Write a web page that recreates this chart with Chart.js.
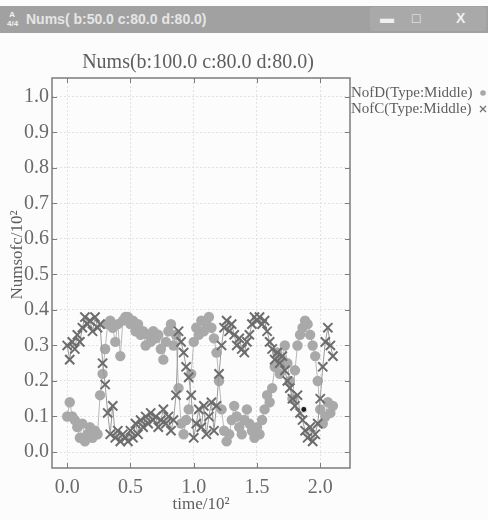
<!DOCTYPE html>
<html>
<head>
<meta charset="utf-8">
<script src="https://cdn.jsdelivr.net/npm/chart.js@4.4.1/dist/chart.umd.min.js"></script>
<style>
  html, body { margin: 0; padding: 0; background: #fff; }
  #wrap { position: relative; width: 488px; height: 520px; overflow: hidden; background: #fcfcfc; }
  #c { position: absolute; left: 0; top: 0; }
  #bar { position: absolute; left: 0; top: 6px; width: 488px; height: 27px; background: #a1a1a1;
         font-family: "Liberation Sans", Arial, sans-serif; font-weight: bold; color: #e6e6e6; z-index: 2; }
  #icon { position: absolute; left: 7px; top: 4px; width: 13px; height: 18px; font-size: 8px; line-height: 9px; color: #f2f2f2; }
  #ttl { position: absolute; left: 26px; top: 5px; font-size: 14px; }
  #btns { position: absolute; left: 370px; top: 1px; width: 116px; height: 24px; background: #a9a9a9; border-radius: 3px; }
  #btns span { position: absolute; top: 3px; font-size: 14px; color: #f0f0f0; }
</style>
</head>
<body>
<div id="wrap">
  <canvas id="c" width="488" height="520"></canvas>
  <div id="bar">
    <span id="icon">&nbsp;A<br>4/4</span>
    <span id="ttl">Nums( b:50.0 c:80.0 d:80.0)</span>
    <span id="btns"><span style="left:10px">&#9644;</span><span style="left:42px">&#9633;</span><span style="left:86px">X</span></span>
  </div>
</div>
<script>
// time steps (plotted as time/10^2)
const times = [0, 2, 4, 6, 8, 10, 12, 14, 16, 18, 20, 22, 24, 26, 28, 30, 32, 34, 36, 38,
  40, 42, 44, 46, 48, 50, 52, 54, 56, 58, 60, 62, 64, 66, 68, 70, 72, 74, 76, 78,
  80, 82, 84, 86, 88, 90, 92, 94, 96, 98, 100, 102, 104, 106, 108, 110, 112, 114, 116, 118,
  120, 122, 124, 126, 128, 130, 132, 134, 136, 138, 140, 142, 144, 146, 148, 150, 152, 154, 156, 158,
  160, 162, 164, 166, 168, 170, 172, 174, 176, 178, 180, 182, 184, 186, 188, 190, 192, 194, 196, 198,
  200, 202, 204, 206, 208, 210];

// NofD (circles), Numsofc/10^2
const nofD = [0.10, 0.14, 0.10, 0.09, 0.07, 0.04, 0.08, 0.03, 0.05, 0.07, 0.04, 0.06, 0.05, 0.16, 0.22, 0.29, 0.36, 0.37, 0.35, 0.31,
  0.36, 0.27, 0.37, 0.38, 0.38, 0.36, 0.37, 0.34, 0.36, 0.33, 0.34, 0.30, 0.33, 0.31, 0.34, 0.32, 0.33, 0.29, 0.26, 0.31,
  0.34, 0.36, 0.30, 0.33, 0.18, 0.08, 0.05, 0.09, 0.12, 0.22, 0.31, 0.35, 0.33, 0.37, 0.34, 0.36, 0.38, 0.35, 0.32, 0.28,
  0.20, 0.12, 0.06, 0.03, 0.05, 0.09, 0.13, 0.10, 0.07, 0.05, 0.09, 0.12, 0.08, 0.06, 0.04, 0.07, 0.05, 0.09, 0.12, 0.16,
  0.14, 0.18, 0.24, 0.28, 0.22, 0.26, 0.30, 0.25, 0.20, 0.15, 0.23, 0.30, 0.33, 0.35, 0.37, 0.36, 0.33, 0.30, 0.27, 0.20,
  0.12, 0.08, 0.10, 0.14, 0.11, 0.13];

// NofC (crosses)
const nofC = [0.30, 0.26, 0.31, 0.29, 0.33, 0.31, 0.35, 0.38, 0.36, 0.37, 0.34, 0.38, 0.35, 0.36, 0.25, 0.19, 0.11, 0.05, 0.13, 0.04,
  0.06, 0.03, 0.05, 0.04, 0.03, 0.06, 0.04, 0.08, 0.05, 0.09, 0.07, 0.10, 0.08, 0.11, 0.09, 0.10, 0.07, 0.09, 0.12, 0.08,
  0.10, 0.06, 0.09, 0.16, 0.34, 0.31, 0.28, 0.24, 0.21, 0.16, 0.04, 0.08, 0.12, 0.07, 0.13, 0.05, 0.10, 0.14, 0.06, 0.13,
  0.22, 0.30, 0.35, 0.37, 0.34, 0.36, 0.33, 0.30, 0.32, 0.29, 0.28, 0.31, 0.33, 0.36, 0.38, 0.37, 0.38, 0.36, 0.37, 0.34,
  0.31, 0.29, 0.26, 0.28, 0.25, 0.27, 0.23, 0.20, 0.18, 0.15, 0.13, 0.16, 0.11, 0.09, 0.06, 0.04, 0.07, 0.03, 0.05, 0.08,
  0.15, 0.24, 0.31, 0.35, 0.30, 0.27];

// the single dark point near the end
const curTime = [187];
const curVal = [0.12];

const xTicks = [0.0, 0.5, 1.0, 1.5, 2.0];
const yTicks = [0.0, 0.1, 0.2, 0.3, 0.4, 0.5, 0.6, 0.7, 0.8, 0.9, 1.0];

const serif = '"Liberation Serif", "Times New Roman", serif';

const pts = (ts, vs) => ts.map((t, i) => ({ x: t / 100, y: vs[i] }));

// frame, inward ticks, titles, legend
const deco = {
  id: 'deco',
  afterDraw(chart) {
    const { ctx, chartArea: a, scales: { x, y } } = chart;
    ctx.save();
    ctx.strokeStyle = '#7c7c7c';
    ctx.lineWidth = 1;
    ctx.beginPath();
    xTicks.forEach(v => {
      const px = Math.round(x.getPixelForValue(v)) + 0.5;
      ctx.moveTo(px, a.bottom); ctx.lineTo(px, a.bottom - 5);
      ctx.moveTo(px, a.top); ctx.lineTo(px, a.top + 5);
    });
    yTicks.forEach(v => {
      const py = Math.round(y.getPixelForValue(v)) + 0.5;
      ctx.moveTo(a.left, py); ctx.lineTo(a.left + 5, py);
      ctx.moveTo(a.right, py); ctx.lineTo(a.right - 5, py);
    });
    ctx.stroke();
    ctx.lineWidth = 1.5;
    ctx.strokeRect(a.left, a.top, a.right - a.left, a.bottom - a.top);

    ctx.fillStyle = '#5e5e5e';
    ctx.textBaseline = 'middle';
    ctx.textAlign = 'center';
    ctx.font = '20px ' + serif;
    ctx.fillText('Nums(b:100.0 c:80.0 d:80.0)', 198, 63);
    ctx.font = '17px ' + serif;
    ctx.fillText('time/10²', 201, 505);
    ctx.save();
    ctx.translate(18, 255);
    ctx.rotate(-Math.PI / 2);
    ctx.fillText('Numsofc/10²', 0, 0);
    ctx.restore();

    // legend
    ctx.textAlign = 'left';
    ctx.font = '15px ' + serif;
    ctx.fillText('NofD(Type:Middle)', 351, 93);
    ctx.fillText('NofC(Type:Middle)', 351, 109);
    ctx.fillStyle = '#a8a8a8';
    ctx.beginPath();
    ctx.arc(483, 93, 2.8, 0, Math.PI * 2);
    ctx.fill();
    ctx.strokeStyle = '#707070';
    ctx.lineWidth = 1.2;
    ctx.beginPath();
    ctx.moveTo(480, 106); ctx.lineTo(486, 112);
    ctx.moveTo(486, 106); ctx.lineTo(480, 112);
    ctx.stroke();
    ctx.restore();
  }
};

new Chart(document.getElementById('c'), {
  type: 'scatter',
  data: {
    datasets: [
      {
        label: 'cur', data: pts(curTime, curVal), order: 0,
        pointStyle: 'circle', pointRadius: 3, backgroundColor: '#1e1e1e', borderColor: '#f0f0f0', pointBorderWidth: 1
      },
      {
        label: 'NofC(Type:Middle)', data: pts(times, nofC), order: 1, showLine: true,
        borderColor: '#9a9a9a', borderWidth: 1,
        pointStyle: 'crossRot', pointRadius: 6.5, pointBorderColor: '#6c6c6c', pointBorderWidth: 2
      },
      {
        label: 'NofD(Type:Middle)', data: pts(times, nofD), order: 2, showLine: true,
        borderColor: '#b8b8b8', borderWidth: 1,
        pointStyle: 'circle', pointRadius: 5.2, pointBackgroundColor: '#a9a9a9', pointBorderColor: '#a9a9a9', pointBorderWidth: 0
      }
    ]
  },
  options: {
    responsive: false,
    animation: false,
    layout: { padding: { top: 78, right: 138, left: 0, bottom: 0 } },
    plugins: { legend: { display: false }, tooltip: { enabled: false } },
    scales: {
      x: {
        type: 'linear', min: -0.12, max: 2.235,
        afterFit: s => { s.height = 52; },
        afterBuildTicks: s => { s.ticks = xTicks.map(v => ({ value: v })); },
        grid: { color: '#e2e2e2', lineWidth: 1, drawTicks: false },
        border: { display: false, dash: [2, 2] },
        ticks: { padding: 8, color: '#6a6a6a', font: { family: serif, size: 20 }, callback: v => v.toFixed(1), maxRotation: 0 }
      },
      y: {
        type: 'linear', min: -0.045, max: 1.053,
        afterFit: s => { s.width = 52; },
        afterBuildTicks: s => { s.ticks = yTicks.map(v => ({ value: v })); },
        grid: { color: '#e2e2e2', lineWidth: 1, drawTicks: false },
        border: { display: false, dash: [2, 2] },
        ticks: { padding: 3, color: '#6a6a6a', font: { family: serif, size: 20 }, callback: v => v.toFixed(1) }
      }
    }
  },
  plugins: [deco]
});
</script>
</body>
</html>
